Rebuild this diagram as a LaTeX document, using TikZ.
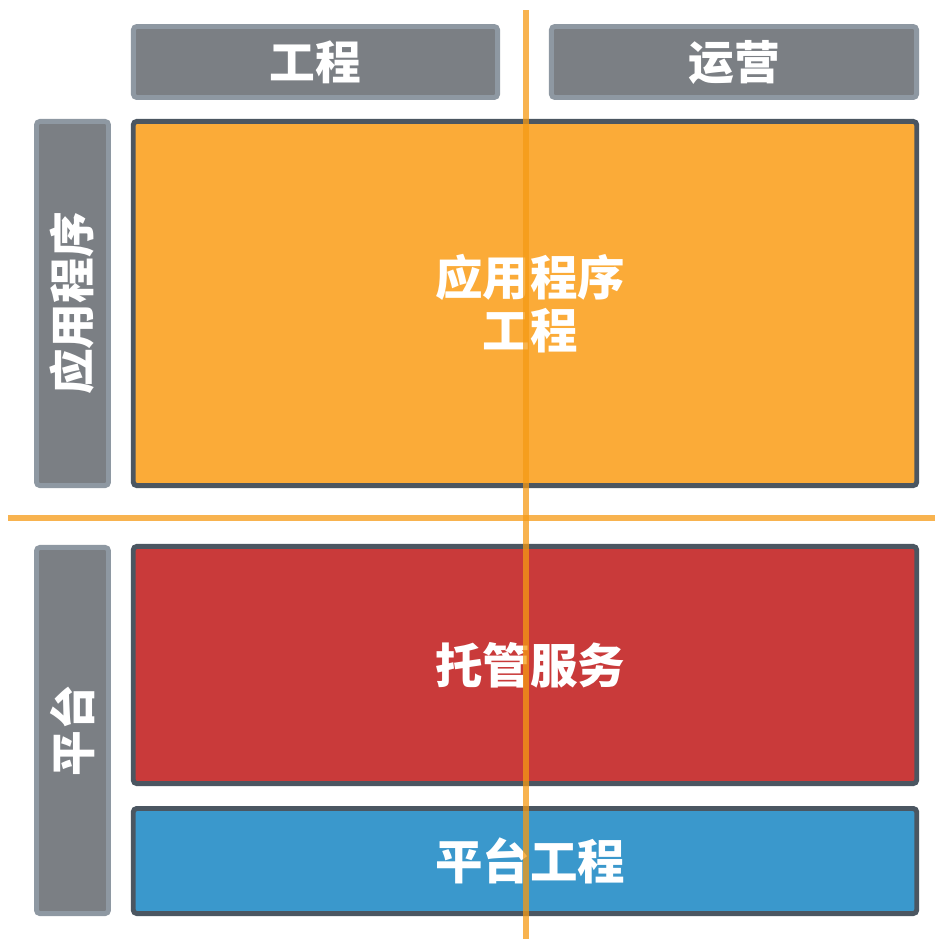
\documentclass[tikz,border=0pt]{standalone}
\usepackage{fontspec}
\usepackage{xcolor}
\usepackage{tikz}
\newfontfamily\cjk{Noto Sans CJK SC}
\definecolor{hdrfill}{HTML}{7B7F84}
\definecolor{hdrline}{HTML}{8E98A2}
\definecolor{boxline}{HTML}{4B5661}
\definecolor{appfill}{HTML}{FBAB38}
\definecolor{hostfill}{HTML}{C93A3A}
\definecolor{platfill}{HTML}{3A98CC}
\definecolor{splitline}{HTML}{F59A14}

\begin{document}
\begin{tikzpicture}[x=0.01cm,y=-0.01cm,
	header/.style={rectangle,draw=hdrline,fill=hdrfill,line width=1.4pt,rounded corners=1pt,
		text=white,font=\cjk\bfseries\fontsize{13}{16}\selectfont,inner sep=0pt},
	area/.style={rectangle,draw=boxline,line width=1.4pt,rounded corners=1pt,
		text=white,font=\cjk\bfseries\fontsize{13.5}{15}\selectfont,align=center,inner sep=0pt},
	split/.style={draw=splitline,line width=1.7pt,opacity=0.75}]
	 \useasboundingbox (0,0) rectangle (935,939);

	 \node at (315.5,62) [header,minimum width=3.64cm,minimum height=0.71cm] (eng) {工程};
	 \node at (734,62) [header,minimum width=3.65cm,minimum height=0.71cm] (ops) {运营};
	 \node at (72.5,303.5) [header,minimum width=0.72cm,minimum height=3.64cm] (app) {\rotatebox{90}{应用程序}};
	 \node at (72.5,730.5) [header,minimum width=0.72cm,minimum height=3.66cm] (plat) {\rotatebox{90}{平台}};

	 \node at (525,303.5) [area,fill=appfill,minimum width=7.83cm,minimum height=3.64cm] (appeng) {\hspace*{0.1cm}应用程序\\\hspace*{0.1cm}工程};
	 \node at (525,665) [area,fill=hostfill,minimum width=7.83cm,minimum height=2.37cm] (hosted) {\hspace*{0.1cm}托管服务};
	 \node at (525,861) [area,fill=platfill,minimum width=7.83cm,minimum height=1.05cm] (plateng) {\hspace*{0.1cm}平台工程};

	 \coordinate (vtop) at (526,10);
	 \coordinate (vbot) at (526,939);
	 \coordinate (hleft) at (8,518);
	 \coordinate (hright) at (935,518);

	 \draw[split] (vtop) -- (vbot);
	 \draw[split] (hleft) -- (hright);

\end{tikzpicture}
\end{document}
